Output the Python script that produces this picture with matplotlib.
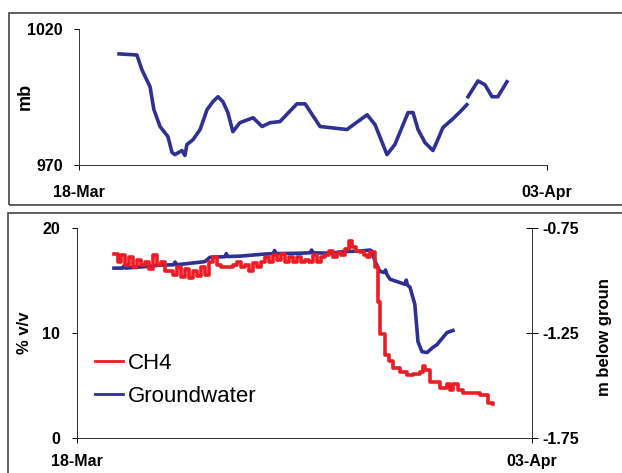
import numpy as np
import matplotlib as mpl
mpl.use('Agg')
import matplotlib.pyplot as plt
from matplotlib.patches import Rectangle
from matplotlib.lines import Line2D

plt.rcParams['font.family'] = ['Liberation Sans', 'DejaVu Sans']

# days after 18-Mar
date_ticks = [0, 16]
date_labels = ["18-Mar", "03-Apr"]

# barometric pressure (mb); nan marks the logger gap
baro_day = [1.37, 1.98, 2.15, 2.43, 2.56, 2.77, 3.04, 3.18, 3.28, 3.52, 3.62, 3.69,
            3.90, 4.14, 4.38, 4.58, 4.75, 4.92, 5.09, 5.26, 5.50, 5.95, 6.26, 6.53,
            6.87, 7.45, 7.73, 8.24, 9.16, 9.85, 10.12, 10.53, 10.80, 11.25, 11.42,
            11.59, 11.83, 12.10, 12.24, 12.44, 12.75, 13.03, 13.26, 13.28, 13.30,
            13.64, 13.88, 14.12, 14.32, 14.63]
baro_mb = [1010.7, 1010.3, 1004.9, 998.6, 990.3, 984.1, 980.4, 974.6, 973.8, 975.3,
           973.5, 977.5, 979.3, 983.0, 990.3, 993.2, 995.0, 993.2, 989.2, 982.2,
           985.5, 987.3, 984.1, 985.5, 985.9, 992.4, 992.4, 984.1, 983.0, 988.4,
           984.8, 973.8, 977.5, 989.2, 989.2, 983.0, 978.2, 975.3, 978.6, 983.7,
           986.6, 989.5, 992.1, np.nan, 995.0, 1000.8, 999.4, 995.0, 995.0, 1000.5]

# methane concentration (% v/v)
ch4_day = [1.30, 1.44, 1.55, 1.69, 1.83, 1.97, 2.11, 2.25, 2.39, 2.53, 2.67, 2.81,
           2.95, 3.09, 3.23, 3.38, 3.52, 3.66, 3.80, 3.94, 4.08, 4.22, 4.36, 4.50,
           4.64, 4.78, 4.92, 5.06, 5.20, 5.49, 5.63, 5.77, 5.91, 6.05, 6.19, 6.33,
           6.47, 6.61, 6.75, 6.89, 7.03, 7.17, 7.31, 7.45, 7.59, 7.74, 7.88, 8.02,
           8.16, 8.30, 8.44, 8.58, 8.72, 8.86, 9.00, 9.14, 9.28, 9.42, 9.56, 9.67,
           9.81, 9.95, 10.09, 10.20, 10.30, 10.41, 10.48, 10.58, 10.65, 10.83,
           10.97, 11.11, 11.36, 11.60, 11.81, 12.06, 12.17, 12.24, 12.41, 12.76,
           13.01, 13.12, 13.22, 13.40, 13.57, 14.17, 14.45, 14.63]
ch4_pct = [17.5, 16.8, 17.4, 16.5, 17.2, 16.3, 17.0, 16.5, 16.8, 16.1, 17.4, 16.5,
           16.8, 15.9, 15.9, 15.5, 16.3, 15.3, 16.1, 15.2, 15.9, 15.4, 16.3, 15.5,
           16.8, 17.2, 16.5, 16.3, 16.3, 16.5, 16.8, 16.3, 16.5, 15.9, 16.7, 16.3,
           16.8, 17.2, 16.8, 17.4, 17.0, 17.5, 16.8, 17.2, 16.8, 17.2, 16.8, 17.0,
           16.8, 17.4, 16.8, 17.2, 17.4, 17.8, 17.2, 17.6, 17.4, 18.0, 18.8, 18.2,
           17.8, 17.7, 17.4, 17.2, 17.7, 17.7, 16.3, 13.0, 9.9, 7.9,
           7.3, 6.7, 6.3, 6.0, 6.1, 6.3, 6.9, 6.5, 5.3, 4.8,
           5.1, 4.6, 5.1, 4.6, 4.3, 4.1, 3.3, 3.2]

# groundwater level (m below ground)
gw_day = [1.30, 1.60, 1.65, 1.70, 2.30, 2.92, 3.40, 3.45, 3.50, 4.32, 4.50, 4.68,
          5.20, 5.25, 5.30, 5.73, 6.61, 6.90, 6.95, 7.00, 7.84, 8.20, 8.25, 8.30,
          8.90, 9.40, 9.95, 10.30, 10.37, 10.48, 10.65, 10.80, 10.85, 10.90, 11.01,
          11.53, 11.58, 11.62, 11.71, 11.88, 11.99, 12.13, 12.31, 12.50, 12.66,
          13.01, 13.22]
gw_m = [-0.941, -0.941, -0.930, -0.941, -0.935, -0.927, -0.925, -0.912, -0.925,
        -0.913, -0.910, -0.889, -0.887, -0.872, -0.886, -0.884, -0.874, -0.872,
        -0.857, -0.872, -0.870, -0.868, -0.855, -0.868, -0.870, -0.862, -0.860,
        -0.855, -0.860, -0.908, -0.956, -0.962, -0.950, -0.972, -0.994, -1.018,
        -0.998, -1.022, -1.032, -1.114, -1.291, -1.339, -1.343, -1.320, -1.305,
        -1.248, -1.238]

BLUE = '#2e3192'
RED = '#ed1c24'
W, H = 622, 473

fig = plt.figure(figsize=(W / 100, H / 100), dpi=100)

# chart frames
fig.patches.append(Rectangle((9 / W, 1 - 205 / H), 1, 192 / H, transform=fig.transFigure,
                             fill=False, lw=1.2, ec='#444444', figure=fig))
fig.patches.append(Rectangle((8 / W, -0.1), 1, 1 - 213 / H + 0.1, transform=fig.transFigure,
                             fill=False, lw=1.2, ec='#444444', figure=fig))

tick_font = dict(fontsize=11.5, fontweight='bold')

# pressure panel
ax1 = fig.add_axes([79 / W, 1 - 165 / H, 468 / W, 136.5 / H])
ax1.plot(baro_day, baro_mb, color=BLUE, lw=2.6)
ax1.set_xlim(0, 16)
ax1.set_ylim(970, 1020)
ax1.set_yticks([970, 1020])
ax1.set_xticks(date_ticks)
ax1.set_xticklabels(date_labels, **tick_font)
ax1.set_yticklabels(["970", "1020"], **tick_font)
ax1.tick_params(axis='y', direction='out', length=3.6, width=0.7, pad=8)
ax1.tick_params(axis='x', direction='out', length=3.6, width=0.7, pad=10.5)
ax1.spines[['top', 'right']].set_visible(False)
for s in ['left', 'bottom']:
    ax1.spines[s].set_linewidth(0.7)
    ax1.spines[s].set_color('#333333')
fig.text(25 / W, 1 - 96 / H, "mb", rotation=90, ha='center', va='center',
         fontsize=13, fontweight='bold')

# methane / groundwater panel
ax2 = fig.add_axes([77 / W, 35 / H, 455 / W, 210 / H])
ax3 = ax2.twinx()
ax2.plot(ch4_day, ch4_pct, color=RED, lw=2.6, drawstyle='steps-post')
ax3.plot(gw_day, gw_m, color=BLUE, lw=2.6)
ax2.set_xlim(0, 16)
ax2.set_ylim(0, 20)
ax3.set_ylim(-1.75, -0.75)
ax2.set_xticks(date_ticks)
ax2.set_xticklabels(date_labels, **tick_font)
ax2.set_yticks([0, 10, 20])
ax2.set_yticklabels(["0", "10", "20"], **tick_font)
ax3.set_yticks([-1.75, -1.25, -0.75])
ax3.set_yticklabels(["-1.75", "-1.25", "-0.75"], **tick_font)
ax2.tick_params(axis='y', direction='out', length=3.6, width=0.7, pad=8.5)
ax2.tick_params(axis='x', direction='out', length=3.6, width=0.7, pad=8)
ax3.tick_params(axis='y', direction='inout', length=8, width=0.7, pad=3.5)
for a in (ax2, ax3):
    a.spines['top'].set_visible(False)
    for s in ['left', 'bottom', 'right']:
        a.spines[s].set_linewidth(0.7)
        a.spines[s].set_color('#333333')
ax3.set_zorder(ax2.get_zorder() - 1)
ax2.patch.set_visible(False)
ax3.patch.set_visible(True)

fig.text(24 / W, 1 - 333 / H, "% v/v", rotation=90, ha='center', va='center',
         fontsize=12, fontweight='bold')
fig.text(605 / W, 1 - 337 / H, "m below groun", rotation=90, ha='center', va='center',
         fontsize=12, fontweight='bold')

handles = [Line2D([], [], color=RED, lw=2), Line2D([], [], color=BLUE, lw=2)]
ax2.legend(handles, ["CH4", "Groundwater"], loc='upper left',
           bbox_to_anchor=(95 / W, 1 - 353 / H), bbox_transform=fig.transFigure,
           frameon=False, fontsize=16, handlelength=1.25, handletextpad=0.25,
           borderpad=0, borderaxespad=0, labelspacing=0.55)

fig.savefig("out.png", dpi=100)
